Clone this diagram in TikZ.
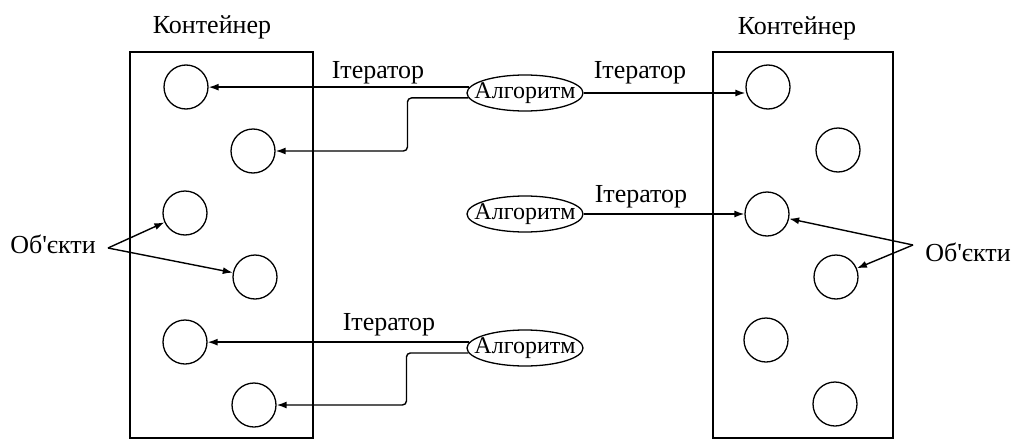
\documentclass[tikz,border=0pt]{standalone}
\usepackage{fontspec}
\setmainfont{Liberation Serif}
\usetikzlibrary{shapes.geometric,arrows.meta}
\begin{document}
\begin{tikzpicture}[x=1pt,y=-1pt,
  cont/.style={draw,line width=1.5pt,inner sep=0pt,minimum width=#1,minimum height=386pt},
  obj/.style={draw,circle,line width=1.3pt,minimum size=44pt,inner sep=0pt},
  alg/.style={draw,ellipse,line width=1.3pt,minimum width=116pt,minimum height=36pt,inner xsep=-10pt,inner ysep=0pt,font=\fontsize{24}{26}\selectfont},
  lbl/.style={anchor=base,inner sep=0pt,font=\fontsize{26}{28}\selectfont},
  arr/.style={line width=1.4pt,-{Latex[length=10pt,width=7pt]}}]
\useasboundingbox (0,0) rectangle (1014,439);
% containers
\node[cont=183pt] (C1) at (221.5,245) {};
\node[cont=180pt] (C2) at (803,245) {};
\node[lbl] (T1) at (212,33) {Контейнер};
\node[lbl] (T2) at (797,34) {Контейнер};
% objects left
\node[obj] (L1) at (186,87) {};
\node[obj] (L2) at (253,151) {};
\node[obj] (L3) at (185,213) {};
\node[obj] (L4) at (255,277) {};
\node[obj] (L5) at (185,342) {};
\node[obj] (L6) at (254,405) {};
% objects right
\node[obj] (R1) at (768,87) {};
\node[obj] (R2) at (838,150) {};
\node[obj] (R3) at (767,214) {};
\node[obj] (R4) at (836,277) {};
\node[obj] (R5) at (766,340) {};
\node[obj] (R6) at (835,404) {};
% algorithms
\node[alg] (A1) at (525,93) {Алгоритм};
\node[alg] (A2) at (525,214) {Алгоритм};
\node[alg] (A3) at (525,348) {Алгоритм};
% iterators
\draw[arr] (A1.174) -- (A1.174 -| L1.east);
\draw[arr,rounded corners=4pt] (A1.185) -- ++(-61,0) |- (L2.east);
\draw[arr] (A1.east) -- (A1.east -| R1.west);
\draw[arr] (A2.east) -- (A2.east -| R3.west);
\draw[arr] (A3.174) -- (A3.174 -| L5.east);
\draw[arr,rounded corners=4pt] (A3.185) -- ++(-62,0) |- (L6.east);
\node[lbl] (I1) at (378,78) {Ітератор};
\node[lbl] (I2) at (640,78) {Ітератор};
\node[lbl] (I3) at (641,202) {Ітератор};
\node[lbl] (I4) at (389,330) {Ітератор};
% objects labels
\node[lbl] (O1) at (53,253) {Об\textquotesingle єкти};
\node[lbl] (O2) at (968,261) {Об\textquotesingle єкти};
\coordinate (OL) at (108,248);
\coordinate (OR) at (913,245);
\draw[arr] (OL) -- (L3);
\draw[arr] (OL) -- (L4);
\draw[arr] (OR) -- (R3);
\draw[arr] (OR) -- (R4);
\end{tikzpicture}
\end{document}
